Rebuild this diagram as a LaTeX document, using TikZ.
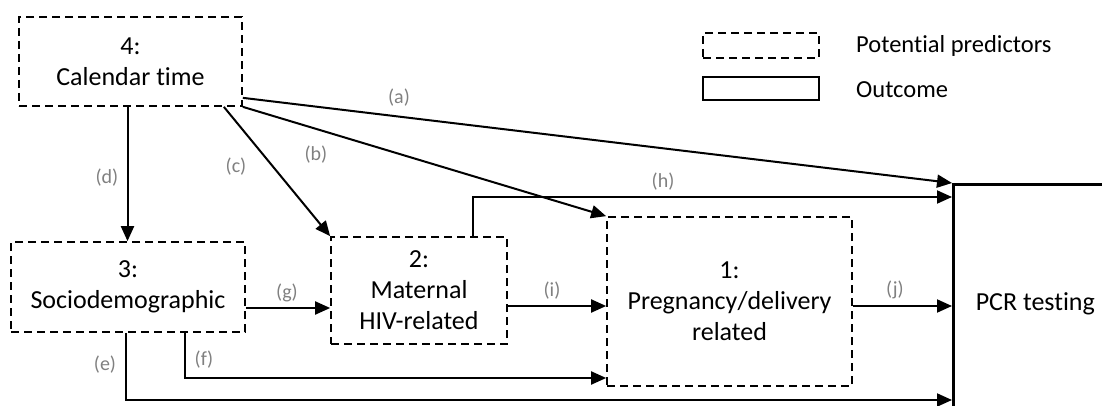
\documentclass[tikz,border=0pt]{standalone}
\usepackage{fontspec}
\setmainfont{Carlito}[RawFeature=-liga]
\usetikzlibrary{arrows.meta}
\definecolor{lblgray}{RGB}{128,128,128}
\begin{document}
\begin{tikzpicture}[x=1pt,y=-1pt,
  predbox/.style={draw, line width=1.7pt, dash pattern=on 8pt off 5pt, align=center,
     font=\fontsize{26}{31}\selectfont, inner sep=0pt},
  outbox/.style={draw, line width=2.6pt, inner sep=0pt},
  conn/.style={line width=2pt, -{Triangle[length=15pt,width=13pt]}},
  lbl/.style={text=lblgray, font=\fontsize{20}{24}\selectfont, inner sep=0pt},
  legtxt/.style={font=\fontsize{24.5}{28}\selectfont, anchor=west, inner sep=0pt}]
\useasboundingbox (0,0) rectangle (1102,406);
\clip (0,0) rectangle (1102,406);
% boxes
\node[predbox, minimum width=223pt, minimum height=89pt] (n4) at (130.5,61.5) {4:\\Calendar time};
\node[predbox, minimum width=234pt, minimum height=90pt] (n3) at (128,287) {3:\\Sociodemographic};
\node[predbox, minimum width=176pt, minimum height=107pt] (n2) at (419,290.5) {2:\\Maternal\\HIV-related};
\node[predbox, minimum width=245pt, minimum height=169pt] (n1) at (729.5,301.5) {1:\\Pregnancy/delivery\\related};
\node[outbox, anchor=north west, minimum width=164pt, minimum height=238pt,
      font=\fontsize{26}{31}\selectfont] (pcr) at (952,183) {PCR testing};
% legend
\node[predbox, minimum width=116pt, minimum height=25pt] (legp) at (761,45.5) {};
\node[outbox, line width=1.7pt, minimum width=116pt, minimum height=23pt] (lego) at (761,88.5) {};
\node[legtxt] (legpt) at (856,46) {Potential predictors};
\node[legtxt] (legot) at (856,90) {Outcome};
% helper coordinates
\coordinate (ey) at (0,400);
\coordinate (fy) at (0,378);
\coordinate (gy) at (0,308);
\coordinate (hy) at (0,197);
\coordinate (iy) at (0,306);
\coordinate (jy) at (0,306);
% connectors
\draw[conn] ([yshift=9pt]n4.south east) -- (pcr.north west);
\draw[conn] (n4.south east) -- (n1.north west);
\draw[conn] ([xshift=-19pt]n4.south east) -- (n2.north west);
\draw[conn] ([xshift=-3pt]n4.south) -- ([xshift=-3pt]n4.south |- n3.north);
\draw[conn] ([xshift=-2pt]n3.south) |- (pcr.west |- ey);
\draw[conn] ([xshift=57pt]n3.south) |- (n1.west |- fy);
\draw[conn] (n3.east |- gy) -- (n2.west |- gy);
\draw[conn] ([xshift=54pt]n2.north) -- ([xshift=54pt]n2.north |- hy) -- (pcr.west |- hy);
\draw[conn] (n2.east |- iy) -- (n1.west |- iy);
\draw[conn] (n1.east |- jy) -- (pcr.west |- jy);
% labels
\node[lbl] (la) at (399,98) {(a)};
\node[lbl] (lb) at (316,155) {(b)};
\node[lbl] (lc) at (236,167) {(c)};
\node[lbl] (ld) at (107,178) {(d)};
\node[lbl] (le) at (105,365) {(e)};
\node[lbl] (lf) at (204,360) {(f)};
\node[lbl] (lg) at (287,293) {(g)};
\node[lbl] (lh) at (663,182) {(h)};
\node[lbl] (li) at (552,291) {(i)};
\node[lbl] (lj) at (895,290) {(j)};
\end{tikzpicture}
\end{document}
